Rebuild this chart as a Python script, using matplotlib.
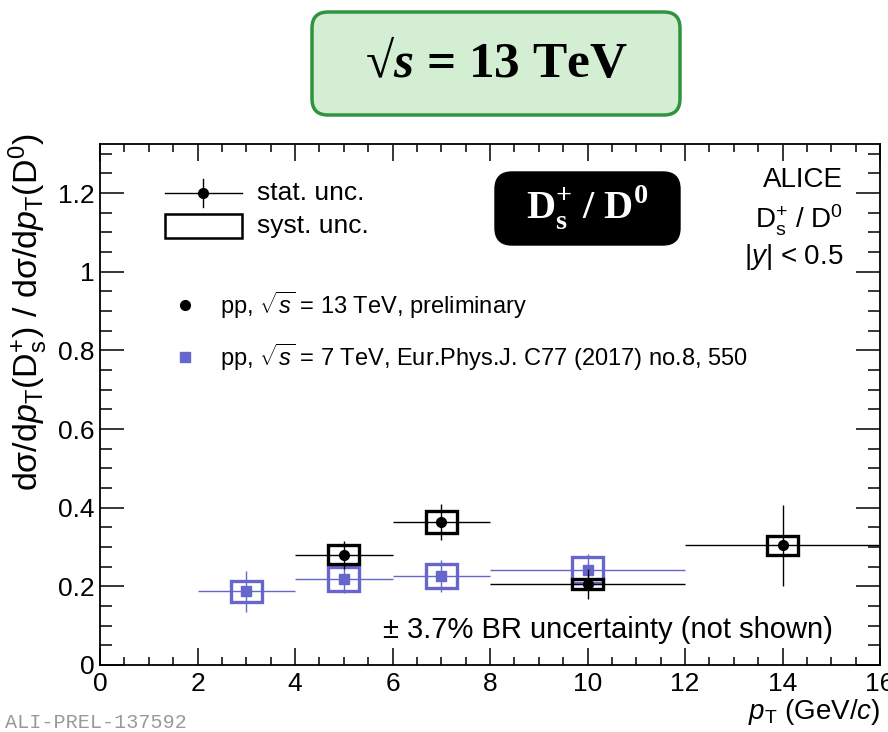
import matplotlib.pyplot as plt
import numpy as np
from matplotlib.patches import Rectangle, FancyBboxPatch
from matplotlib.ticker import MultipleLocator, FuncFormatter

plt.rcParams['font.family'] = ['Liberation Sans', 'DejaVu Sans']
plt.rcParams['mathtext.fontset'] = 'custom'
plt.rcParams['mathtext.rm'] = 'Liberation Sans'
plt.rcParams['mathtext.it'] = 'Liberation Sans:italic'
plt.rcParams['mathtext.bf'] = 'Liberation Serif:bold'
plt.rcParams['mathtext.sf'] = 'Liberation Serif:italic:bold'

# pp 13 TeV (preliminary)
pt13 = np.array([5.0, 7.0, 10.0, 14.0])
lo13 = np.array([4.0, 6.0, 8.0, 12.0])
hi13 = np.array([6.0, 8.0, 12.0, 16.0])
r13 = np.array([0.280, 0.364, 0.206, 0.304])
stat13 = np.array([0.035, 0.046, 0.038, 0.104])
syst13 = np.array([0.024, 0.028, 0.013, 0.024])

# pp 7 TeV (EPJC 77 (2017) 550)
pt7 = np.array([3.0, 5.0, 7.0, 10.0])
lo7 = np.array([2.0, 4.0, 6.0, 8.0])
hi7 = np.array([4.0, 6.0, 8.0, 12.0])
r7 = np.array([0.187, 0.219, 0.227, 0.242])
stat7 = np.array([0.051, 0.036, 0.041, 0.041])
syst7 = np.array([0.026, 0.030, 0.030, 0.033])

blue = '#6666cc'
box_hw = 0.32  # half width of syst. boxes

fig = plt.figure(figsize=(8.88, 7.32), dpi=100)
ax = fig.add_axes([100/888, 67/732, 780/888, 521/732])

# 7 TeV
for x, y, s in zip(pt7, r7, syst7):
    ax.add_patch(Rectangle((x - box_hw, y - s), 2*box_hw, 2*s, fill=False,
                           edgecolor=blue, linewidth=2.4, zorder=3))
ax.errorbar(pt7, r7, xerr=[pt7 - lo7, hi7 - pt7], yerr=stat7, fmt='s',
            color=blue, ms=6.5, elinewidth=1.0, capsize=0, zorder=4)

# 13 TeV
for x, y, s in zip(pt13, r13, syst13):
    ax.add_patch(Rectangle((x - box_hw, y - s), 2*box_hw, 2*s, fill=False,
                           edgecolor='black', linewidth=2.4, zorder=5))
ax.errorbar(pt13, r13, xerr=[pt13 - lo13, hi13 - pt13], yerr=stat13, fmt='o',
            color='black', ms=7, elinewidth=1.0, capsize=0, zorder=6)

ax.set_xlim(0, 16)
ax.set_ylim(0, 1.325)
ax.xaxis.set_major_locator(MultipleLocator(2))
ax.xaxis.set_minor_locator(MultipleLocator(0.5))
ax.yaxis.set_major_locator(MultipleLocator(0.2))
ax.yaxis.set_minor_locator(MultipleLocator(0.05))
ax.yaxis.set_major_formatter(FuncFormatter(lambda v, p: '%g' % round(v, 2)))
ax.tick_params(which='both', direction='in', top=True, right=True, width=1.1, labelsize=19)
ax.tick_params(axis='x', which='major', length=12, pad=5)
ax.tick_params(axis='x', which='minor', length=6)
ax.tick_params(axis='y', which='major', length=17, pad=4)
ax.tick_params(axis='y', which='minor', length=8.5)
for sp in ax.spines.values():
    sp.set_linewidth(1.3)

# axis titles
fig.text(880/888, 1 - 712/732, r'$p_{\rm T}$ (GeV/$c$)', ha='right', va='center', fontsize=20)
fig.text(28/888, 1 - 134/732,
         r'dσ/d$p_{\rm T}$(D$_{\rm s}^{+}$) / dσ/d$p_{\rm T}$(D$^{0}$)',
         rotation=90, ha='center', va='top', fontsize=24.5)

# stat / syst legend
ax.plot([0.083, 0.182], [0.906, 0.906], color='black', lw=1.0, transform=ax.transAxes)
ax.plot([0.1325, 0.1325], [0.88, 0.932], color='black', lw=1.0, transform=ax.transAxes)
ax.plot([0.1325], [0.906], 'o', color='black', ms=7, transform=ax.transAxes)
ax.add_patch(Rectangle((0.083, 0.820), 0.099, 0.046, fill=False, edgecolor='black',
                       linewidth=1.8, transform=ax.transAxes))
ax.text(0.201, 0.906, 'stat. unc.', transform=ax.transAxes, va='center', fontsize=19)
ax.text(0.201, 0.843, 'syst. unc.', transform=ax.transAxes, va='center', fontsize=19)

# data legend
ax.plot([0.109], [0.691], 'o', color='black', ms=7, transform=ax.transAxes)
ax.text(0.154, 0.691, r'pp, $\sqrt{s}$ = 13 TeV, preliminary', transform=ax.transAxes,
        va='center', fontsize=17)
ax.plot([0.109], [0.591], 's', color=blue, ms=6.5, transform=ax.transAxes)
ax.text(0.154, 0.591, r'pp, $\sqrt{s}$ = 7 TeV, Eur.Phys.J. C77 (2017) no.8, 550',
        transform=ax.transAxes, va='center', fontsize=17)

# ALICE label
ax.text(0.953, 0.931, 'ALICE', transform=ax.transAxes, ha='right', va='center', fontsize=20)
ax.text(0.953, 0.854, r'D$_{\rm s}^{+}$ / D$^{0}$', transform=ax.transAxes, ha='right',
        va='center', fontsize=20)
ax.text(0.953, 0.783, r'|$y$| < 0.5', transform=ax.transAxes, ha='right', va='center', fontsize=20)

ax.text(0.651, 0.067, '± 3.7% BR uncertainty (not shown)', transform=ax.transAxes,
        ha='center', va='center', fontsize=21)

# black badge
fig.patches.append(FancyBboxPatch((4.95, 4.87), 1.85, 0.73,
                                  boxstyle='round,pad=0,rounding_size=0.17',
                                  facecolor='black', edgecolor='black',
                                  transform=fig.dpi_scale_trans, figure=fig))
fig.text(587/888, 1 - 208/732, r'D$_{\mathbf{s}}^{\mathbf{+}}$ / D$^{\mathbf{0}}$', color='white',
         ha='center', va='center', fontsize=29, fontweight='bold',
         family=['Liberation Serif', 'DejaVu Serif'])

# green energy badge
fig.patches.append(FancyBboxPatch((3.12, 6.17), 3.68, 1.03,
                                  boxstyle='round,pad=0,rounding_size=0.16',
                                  facecolor='#d3eed3', edgecolor='#2f9340', linewidth=2.5,
                                  transform=fig.dpi_scale_trans, figure=fig))
fig.text(496/888, 1 - 65/732, r'√$\mathsf{s}$ = 13 TeV', ha='center', va='center',
         fontsize=37, fontweight='bold', family=['Liberation Serif', 'DejaVu Serif'])

fig.text(5/888, 1 - 722/732, 'ALI-PREL-137592', color='#999999', ha='left', va='center',
         fontsize=14.5, family=['Liberation Mono', 'DejaVu Sans Mono'])

fig.savefig('out.png', dpi=100)
